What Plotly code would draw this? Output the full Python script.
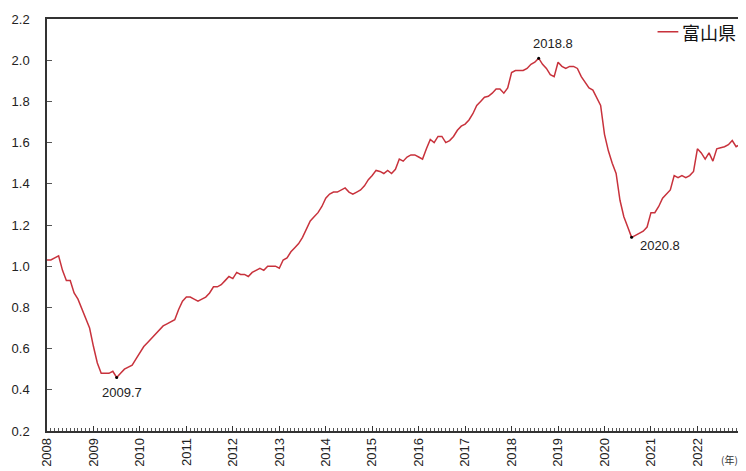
import plotly.graph_objects as go

start_year = 2008
values_2008 = [1.03, 1.03, 1.04, 1.05, 0.98, 0.93, 0.93, 0.87, 0.84, 0.79, 0.75, 0.70]
values_2009 = [0.61, 0.53, 0.48, 0.48, 0.48, 0.49, 0.46, 0.48, 0.50, 0.51, 0.52, 0.55]
values_2010 = [0.58, 0.61, 0.63, 0.65, 0.67, 0.69, 0.71, 0.72, 0.73, 0.74, 0.79, 0.83]
values_2011 = [0.85, 0.85, 0.84, 0.83, 0.84, 0.85, 0.87, 0.90, 0.90, 0.91, 0.93, 0.95]
values_2012 = [0.94, 0.97, 0.96, 0.96, 0.95, 0.97, 0.98, 0.99, 0.98, 1.00, 1.00, 1.00]
values_2013 = [0.99, 1.03, 1.04, 1.07, 1.09, 1.11, 1.14, 1.18, 1.22, 1.24, 1.26, 1.29]
values_2014 = [1.33, 1.35, 1.36, 1.36, 1.37, 1.38, 1.36, 1.35, 1.36, 1.37, 1.39, 1.42]
values_2015 = [1.44, 1.465, 1.46, 1.45, 1.465, 1.45, 1.47, 1.52, 1.51, 1.53, 1.54, 1.54]
values_2016 = [1.53, 1.52, 1.57, 1.615, 1.60, 1.63, 1.63, 1.60, 1.61, 1.63, 1.66, 1.68]
values_2017 = [1.69, 1.71, 1.74, 1.78, 1.80, 1.82, 1.825, 1.84, 1.86, 1.86, 1.84, 1.865]
values_2018 = [1.94, 1.95, 1.95, 1.95, 1.96, 1.98, 1.99, 2.01, 1.98, 1.96, 1.93, 1.92]
values_2019 = [1.99, 1.97, 1.96, 1.97, 1.97, 1.96, 1.92, 1.89, 1.865, 1.855, 1.82, 1.78]
values_2020 = [1.64, 1.56, 1.50, 1.45, 1.32, 1.24, 1.19, 1.14, 1.15, 1.16, 1.17, 1.19]
values_2021 = [1.26, 1.26, 1.29, 1.33, 1.35, 1.37, 1.44, 1.43, 1.44, 1.43, 1.44, 1.46]
values_2022 = [1.57, 1.55, 1.52, 1.55, 1.51, 1.57, 1.575, 1.58, 1.59, 1.61, 1.58, 1.59]

series_name = "富山県"
year_labels = [str(y) for y in range(2008, 2023)]
y_tick_values = [0.2, 0.4, 0.6, 0.8, 1.0, 1.2, 1.4, 1.6, 1.8, 2.0, 2.2]

# turning points labelled on the chart: (year, month, label)
turning_points = [(2009, 7, "2009.7"), (2018, 8, "2018.8"), (2020, 8, "2020.8")]

all_values = (values_2008 + values_2009 + values_2010 + values_2011 + values_2012 +
              values_2013 + values_2014 + values_2015 + values_2016 + values_2017 +
              values_2018 + values_2019 + values_2020 + values_2021 + values_2022)
x_vals = [start_year + i / 12 for i in range(len(all_values))]

def val_at(year, month):
    return all_values[(year - start_year) * 12 + (month - 1)]

line_color = "#c8323c"
fig = go.Figure()
fig.add_trace(go.Scatter(
    x=x_vals, y=all_values, mode="lines", name=series_name,
    line=dict(color=line_color, width=1.5),
))
tp_x = [y + (m - 1) / 12 for y, m, _ in turning_points]
tp_y = [val_at(y, m) for y, m, _ in turning_points]
fig.add_trace(go.Scatter(
    x=tp_x, y=tp_y, mode="markers", showlegend=False,
    marker=dict(color="black", size=3),
))

font_main = "Liberation Sans, Arial, sans-serif"
shifts = {
    "2009.7": dict(xanchor="center", yanchor="top", xshift=5, yshift=-6),
    "2018.8": dict(xanchor="center", yanchor="bottom", xshift=14, yshift=5),
    "2020.8": dict(xanchor="left", yanchor="top", xshift=6, yshift=1),
}
for (y, m, lab), xx, yy in zip(turning_points, tp_x, tp_y):
    fig.add_annotation(x=xx, y=yy, text=lab, showarrow=False,
                       font=dict(size=13, color="#222", family=font_main),
                       **shifts[lab])

fig.add_annotation(xref="paper", yref="paper", x=1.0, y=-0.045, text="(年)",
                   showarrow=False, xanchor="right", yanchor="top",
                   font=dict(size=10, color="#333", family="Noto Sans CJK JP"))

# legend key drawn inside the top-right corner of the plot
fig.add_shape(type="line", xref="paper", yref="paper",
              x0=0.881, x1=0.911, y0=0.969, y1=0.969,
              line=dict(color=line_color, width=1.5))
fig.add_annotation(xref="paper", yref="paper", x=0.914, y=0.969, text=series_name,
                   showarrow=False, xanchor="left", yanchor="middle",
                   font=dict(size=18, color="#111", family="Noto Sans CJK JP"))

# page body has an 8px margin, so the figure is sized to fit the 746x471 window
fig.update_layout(
    width=738, height=463,
    margin=dict(l=37, r=4, t=9, b=39),
    paper_bgcolor="white", plot_bgcolor="white",
    showlegend=False,
)
fig.update_xaxes(
    range=[start_year, start_year + (len(all_values) - 1) / 12],
    tickvals=[int(s) for s in year_labels], ticktext=year_labels,
    tickangle=-90, ticks="inside", ticklen=5, tickcolor="#333",
    minor=dict(dtick=1 / 12, tick0=start_year, ticks="inside", ticklen=3, tickcolor="#555"),
    showgrid=False, zeroline=False,
    showline=True, linecolor="#333", linewidth=1.5, mirror=True,
    tickfont=dict(size=13, color="#222", family=font_main),
)
fig.update_yaxes(
    range=[0.2, 2.2], tickvals=y_tick_values, tickformat=".1f",
    ticks="inside", ticklen=5, tickcolor="#555",
    showgrid=False, zeroline=False,
    showline=True, linecolor="#333", linewidth=1.5, mirror=True,
    tickfont=dict(size=13, color="#222", family=font_main),
    ticklabelstandoff=13,
)

fig.write_html("out.html")
